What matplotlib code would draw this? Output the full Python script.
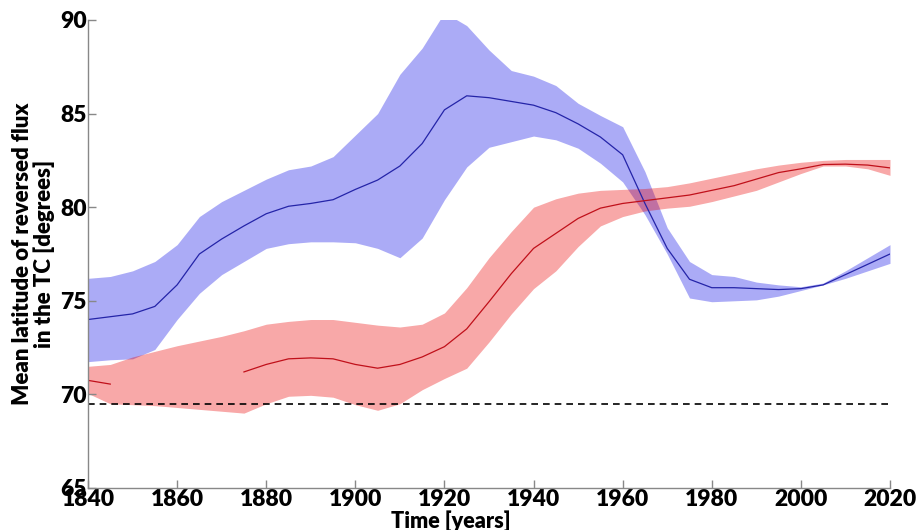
import numpy as np
import matplotlib
matplotlib.use("Agg")
import matplotlib.pyplot as plt

# values, 5-year steps
years = np.arange(1840, 2021, 5)

blue_mean = [74.0, 74.15, 74.3, 74.7, 75.85, 77.5, 78.3, 79.0, 79.65, 80.05,
             80.2, 80.4, 80.95, 81.45, 82.2, 83.4, 85.2, 85.95, 85.85, 85.65,
             85.45, 85.05, 84.45, 83.75, 82.8, 80.2, 77.8, 76.15, 75.7, 75.7,
             75.65, 75.6, 75.65, 75.85, 76.4, 76.95, 77.5]
blue_upper = [76.2, 76.3, 76.6, 77.1, 78.0, 79.5, 80.3, 80.9, 81.5, 82.0,
              82.2, 82.7, 83.85, 85.0, 87.1, 88.5, 90.4, 89.7, 88.4, 87.3,
              87.0, 86.5, 85.55, 84.9, 84.3, 81.9, 78.9, 77.1, 76.4, 76.3,
              76.0, 75.85, 75.75, 75.95, 76.6, 77.3, 78.0]
blue_lower = [71.75, 71.85, 71.9, 72.4, 74.0, 75.4, 76.4, 77.1, 77.8, 78.05,
              78.15, 78.15, 78.1, 77.8, 77.3, 78.35, 80.4, 82.15, 83.2, 83.5,
              83.8, 83.6, 83.15, 82.35, 81.35, 79.6, 77.5, 75.15, 74.95, 75.0,
              75.05, 75.25, 75.55, 75.85, 76.2, 76.6, 77.0]

nan = np.nan
red_mean = [70.75, 70.55, nan, nan, nan, nan, nan, 71.2, 71.6, 71.9,
            71.95, 71.9, 71.6, 71.4, 71.6, 72.0, 72.55, 73.5, 74.95, 76.45,
            77.8, 78.6, 79.4, 79.95, 80.2, 80.35, 80.5, 80.65, 80.9, 81.15,
            81.5, 81.85, 82.05, 82.28, 82.3, 82.25, 82.1]
red_upper = [71.5, 71.6, 72.0, 72.3, 72.6, 72.85, 73.1, 73.4, 73.75, 73.9,
             74.0, 74.0, 73.85, 73.7, 73.6, 73.75, 74.35, 75.7, 77.3, 78.7,
             80.0, 80.45, 80.75, 80.9, 80.95, 81.0, 81.1, 81.3, 81.55, 81.8,
             82.05, 82.25, 82.4, 82.5, 82.55, 82.55, 82.55]
red_lower = [70.05, 69.5, 69.45, 69.4, 69.3, 69.2, 69.1, 69.0, 69.5, 69.9,
             69.95, 69.85, 69.45, 69.15, 69.5, 70.25, 70.85, 71.4, 72.8, 74.3,
             75.65, 76.6, 77.9, 79.0, 79.5, 79.8, 79.95, 80.05, 80.3, 80.6,
             80.9, 81.35, 81.8, 82.2, 82.2, 82.05, 81.7]

threshold = 69.5
xticks = [1840, 1860, 1880, 1900, 1920, 1940, 1960, 1980, 2000, 2020]
yticks = [65, 70, 75, 80, 85, 90]

plt.rcParams["font.family"] = ["Lato", "DejaVu Sans"]
plt.rcParams["font.weight"] = "heavy"

fig = plt.figure(figsize=(9.16, 5.30), dpi=100)
ax = fig.add_axes([88 / 916, 1 - 488 / 530, 802 / 916, 468 / 530])

ax.fill_between(years, blue_lower, blue_upper, color=(0.0, 0.0, 0.9),
                alpha=0.33, linewidth=0)
ax.fill_between(years, red_lower, red_upper, color=(0.92, 0.0, 0.0),
                alpha=0.34, linewidth=0)
ax.plot(years, blue_mean, color="#2424a8", linewidth=0.9)
ax.plot(years, red_mean, color="#c0101a", linewidth=0.9)
ax.axhline(threshold, color="black", linestyle=(0, (4, 3)), linewidth=1.2)

ax.set_xlim(1840, 2020)
ax.set_ylim(65, 90)
ax.set_xticks(xticks)
ax.set_yticks(yticks)

for s in ["top", "right"]:
    ax.spines[s].set_visible(False)
for s in ["left", "bottom"]:
    ax.spines[s].set_color("#888888")
    ax.spines[s].set_linewidth(1.0)

ax.tick_params(direction="in", length=6, width=1, color="#888888",
               labelsize=16.5, pad=1)
for lab in ax.get_xticklabels() + ax.get_yticklabels():
    lab.set_fontweight("heavy")

ax.set_ylabel("Mean latitude of reversed flux\nin the TC [degrees]",
              fontsize=16, fontweight="heavy", linespacing=1.0)
ax.yaxis.set_label_coords(-33 / 802, 0.5)
fig.text(451 / 916, 2 / 530, "Time [years]", ha="center", va="baseline",
         fontsize=15.5, fontweight="heavy")

fig.savefig("out.png", dpi=100)
